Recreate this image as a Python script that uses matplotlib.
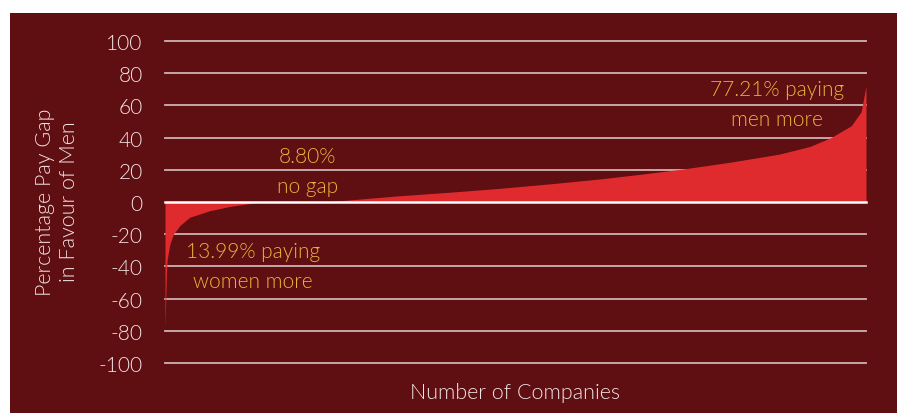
"""
Gender pay gap: sorted gap per company as a filled area chart.
"""

import matplotlib.pyplot as plt

# share of companies (%) and pay gap in favour of men (%)
company_pct = [0.0, 0.2, 0.3, 0.7, 1.2, 2.1, 3.5, 6.4, 9.3, 11.7, 12.8, 13.99,
               14.0, 22.8, 33.5, 40.7, 47.8, 55.0, 62.0, 68.0, 73.9, 80.6,
               87.7, 92.0, 95.0, 97.9, 99.3, 100.0]
pay_gap = [-78, -45, -36, -26, -20, -14.7, -9.5, -5.4, -2.7, -1.2, -0.5, -0.1,
           0, 0, 3.9, 6.1, 8.5, 11.3, 14.3, 17.3, 20.5, 24.7,
           29.8, 34.5, 40, 47.4, 56, 72]

y_ticks = [100, 80, 60, 40, 20, 0, -20, -40, -60, -80, -100]

notes = ["13.99% paying\nwomen more", "8.80%\nno gap", "77.21% paying\nmen more"]
note_pos = [(12.55, -39.8), (20.3, 19.3), (87.3, 61)]

BG = "#5f0e12"
FILL = "#e02b2e"
GOLD = "#ebb43c"
TEXT = "#f2e4e4"
GRID = "#cfb3b3"

plt.rcParams["font.family"] = ["Lato", "DejaVu Sans"]
plt.rcParams["font.weight"] = 300

fig = plt.figure(figsize=(8.97, 4.14), dpi=100)
fig.patch.set_facecolor("white")

# dark panel behind everything, leaving a white strip top and left
bg = fig.add_axes([10 / 897, 0, 1, (414 - 14) / 414], zorder=0)
bg.set_facecolor(BG)
bg.set_xticks([])
bg.set_yticks([])
for s in bg.spines.values():
    s.set_visible(False)

ax = fig.add_axes([165 / 897, 1 - 364 / 414, (866 - 165) / 897, 322 / 414],
                  zorder=1)
ax.set_facecolor("none")
ax.set_xlim(0, 100)
ax.set_ylim(-100, 100)

for t in y_ticks:
    if t != 0:
        ax.axhline(t, color=GRID, lw=1.3, clip_on=False, zorder=1)

ax.fill_between(company_pct, pay_gap, 0, color=FILL, lw=0, zorder=2)
ax.axhline(0, color="white", lw=1.8, clip_on=False, zorder=3)

for txt, (x, y) in zip(notes, note_pos):
    ax.text(x, y, txt, color=GOLD, fontsize=15, ha="center", va="center",
            linespacing=1.6, zorder=4)

ax.set_yticks(y_ticks)
ax.set_yticklabels([str(t) for t in y_ticks])
ax.set_xticks([])
ax.tick_params(axis="y", length=0, pad=16, colors=TEXT, labelsize=15)
for s in ax.spines.values():
    s.set_visible(False)

fig.text(57 / 897, 1 - 202 / 414, "Percentage Pay Gap\nin Favour of Men",
         rotation=90, ha="center", va="center", color=TEXT, fontsize=15.5,
         linespacing=1.3, zorder=5)
fig.text(515 / 897, 1 - 393 / 414, "Number of Companies",
         ha="center", va="center", color=TEXT, fontsize=15.5, zorder=5)

fig.savefig("out.png", dpi=100, facecolor=fig.get_facecolor())
